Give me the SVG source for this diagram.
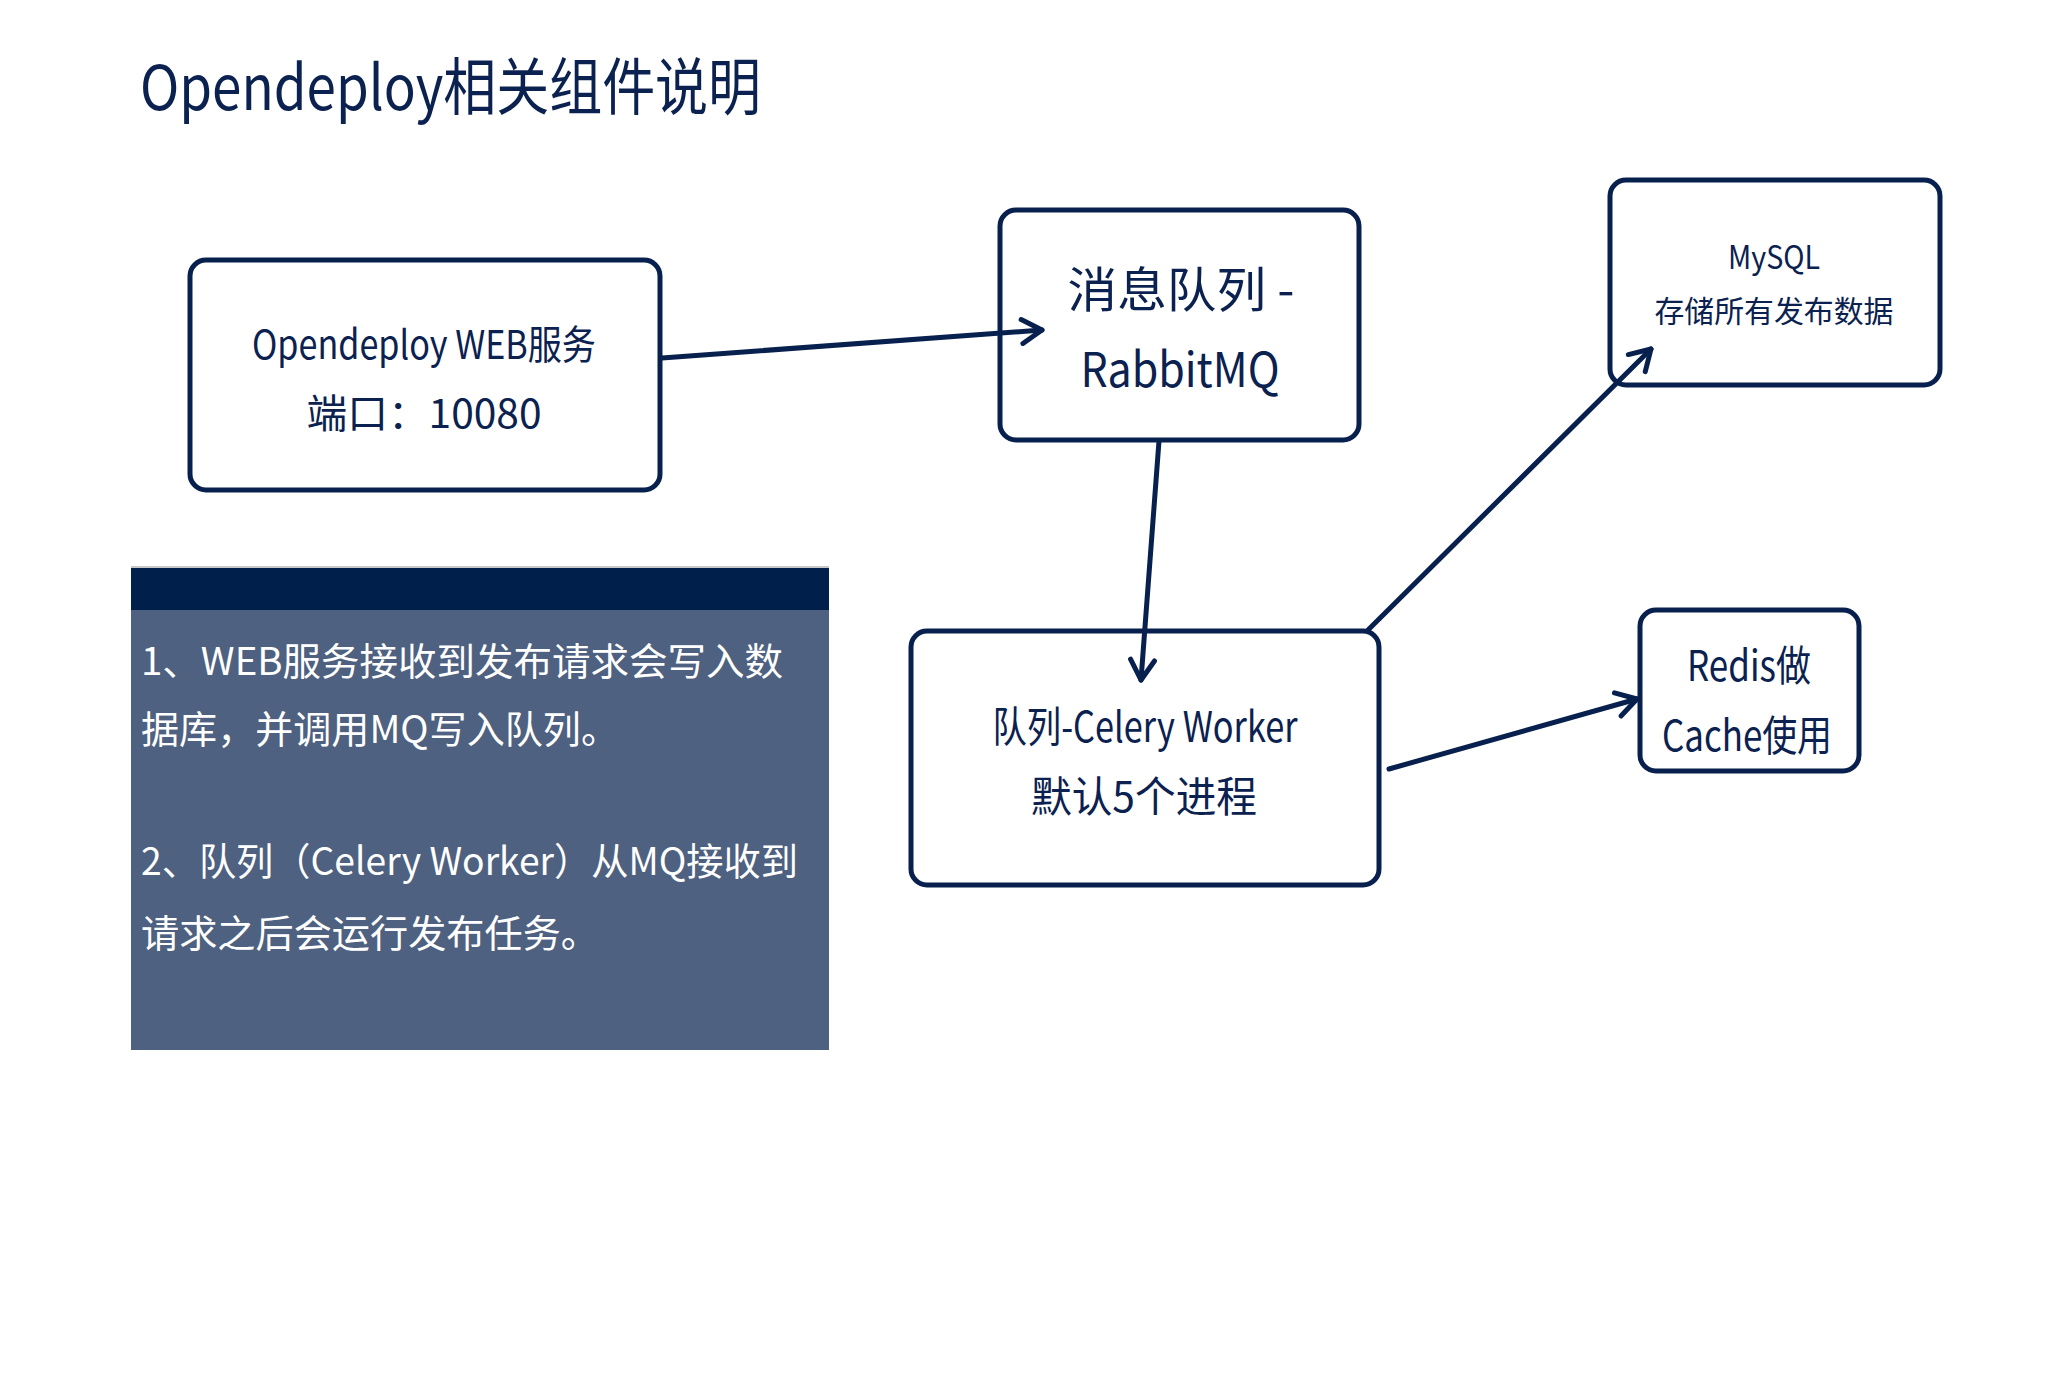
<svg xmlns="http://www.w3.org/2000/svg" width="2048" height="1396" viewBox="0 0 2048 1396">
<style>
.box{fill:#ffffff;stroke:#08204d;stroke-width:5}
.t{font-family:"Noto Sans CJK SC","Liberation Sans",sans-serif;fill:#0b2150;text-anchor:middle}
.w{font-family:"Noto Sans CJK SC","Liberation Sans",sans-serif;fill:#ffffff}
.con{fill:none;stroke:#08204d;stroke-width:5;stroke-linecap:round}
</style>
<defs>
<marker id="arr" viewBox="0 0 30 30" refX="26" refY="15" markerWidth="30" markerHeight="30" markerUnits="userSpaceOnUse" orient="auto">
<path d="M6,3 L26,15 L6,27" fill="none" stroke="#08204d" stroke-width="5" stroke-linecap="round" stroke-linejoin="round"/>
</marker>
</defs>
<rect width="2048" height="1396" fill="#ffffff"/>
<text x="140" y="110" font-family="Noto Sans CJK SC, Liberation Sans, sans-serif" font-size="62" fill="#0b2150" textLength="621" lengthAdjust="spacingAndGlyphs">Opendeploy相关组件说明</text>
<g id="notes">
<rect x="131" y="566" width="698" height="3" fill="#c8c8c8"/>
<rect x="131" y="568" width="698" height="482" fill="#4e6180"/>
<rect x="131" y="568" width="698" height="42" fill="#011f4b"/>
<text class="w" x="141" y="675" font-size="38" textLength="642" lengthAdjust="spacingAndGlyphs">1、WEB服务接收到发布请求会写入数</text>
<text class="w" x="141" y="743" font-size="38" textLength="478" lengthAdjust="spacingAndGlyphs">据库，并调用MQ写入队列。</text>
<text class="w" x="141" y="875" font-size="38" textLength="657" lengthAdjust="spacingAndGlyphs">2、队列（Celery Worker）从MQ接收到</text>
<text class="w" x="141" y="947" font-size="38" textLength="458" lengthAdjust="spacingAndGlyphs">请求之后会运行发布任务。</text>
</g>
<g id="web">
<rect class="box" x="190" y="260" width="470" height="230" rx="16"/>
<text class="t" x="424" y="359" font-size="40" textLength="344" lengthAdjust="spacingAndGlyphs">Opendeploy WEB服务</text>
<text class="t" x="424" y="428" font-size="40" textLength="235" lengthAdjust="spacingAndGlyphs">端口：10080</text>
</g>
<g id="mq">
<rect class="box" x="1000" y="210" width="359" height="230" rx="16"/>
<text class="t" x="1181" y="307" font-size="48" textLength="227" lengthAdjust="spacingAndGlyphs">消息队列 -</text>
<text class="t" x="1180" y="387" font-size="48" textLength="199" lengthAdjust="spacingAndGlyphs">RabbitMQ</text>
</g>
<g id="mysql">
<rect class="box" x="1610" y="180" width="330" height="205" rx="16"/>
<text class="t" x="1774" y="269" font-size="32" textLength="92" lengthAdjust="spacingAndGlyphs">MySQL</text>
<text class="t" x="1774" y="322" font-size="30" textLength="239" lengthAdjust="spacingAndGlyphs">存储所有发布数据</text>
</g>
<g id="worker">
<rect class="box" x="911" y="631" width="468" height="254" rx="16"/>
<text class="t" x="1145" y="742" font-size="42" textLength="305" lengthAdjust="spacingAndGlyphs">队列-Celery Worker</text>
<text class="t" x="1144" y="812" font-size="42" textLength="226" lengthAdjust="spacingAndGlyphs">默认5个进程</text>
</g>
<g id="redis">
<rect class="box" x="1640" y="610" width="219" height="161" rx="16"/>
<text class="t" x="1749" y="681" font-size="42" textLength="124" lengthAdjust="spacingAndGlyphs">Redis做</text>
<text class="t" x="1747" y="751" font-size="42" textLength="170" lengthAdjust="spacingAndGlyphs">Cache使用</text>
</g>
<g id="connectors">
<line class="con" x1="662" y1="358" x2="1042" y2="330" marker-end="url(#arr)"/>
<line class="con" x1="1159" y1="441" x2="1141" y2="680" marker-end="url(#arr)"/>
<line class="con" x1="1368" y1="630" x2="1651" y2="349" marker-end="url(#arr)"/>
<line class="con" x1="1389" y1="769" x2="1637" y2="699" marker-end="url(#arr)"/>
</g>
</svg>
